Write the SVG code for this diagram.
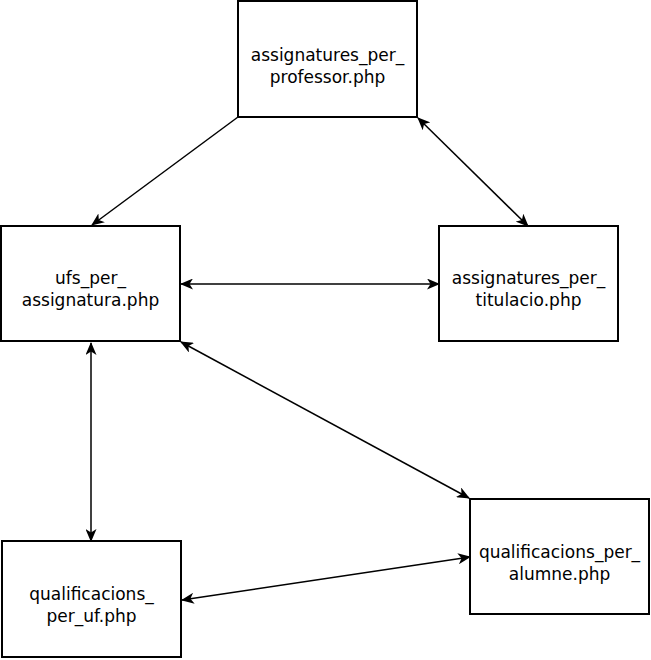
<svg xmlns="http://www.w3.org/2000/svg" width="651" height="660" viewBox="0 0 651 660">
<style>
.box{fill:#fff;stroke:#000;stroke-width:2}
.lbl{font-family:"DejaVu Sans",sans-serif;font-size:17px;fill:#000;text-anchor:middle}
.edge{fill:none;stroke:#000;stroke-width:1.5}
</style>
<defs>
<marker id="arr" viewBox="0 0 13 11" refX="12" refY="5.5" markerWidth="13" markerHeight="11" markerUnits="userSpaceOnUse" orient="auto-start-reverse">
<path d="M0,0 L13,5.5 L0,11 L3.5,5.5 Z" fill="#000"/>
</marker>
</defs>
<rect width="651" height="660" fill="#fff"/>
<g id="connectors">
<line class="edge" x1="238" y1="117" x2="92" y2="225" marker-end="url(#arr)"/>
<line class="edge" x1="418" y1="118" x2="528" y2="226" marker-start="url(#arr)" marker-end="url(#arr)"/>
<line class="edge" x1="181" y1="284" x2="439" y2="284" marker-start="url(#arr)" marker-end="url(#arr)"/>
<line class="edge" x1="91" y1="343" x2="91" y2="541" marker-start="url(#arr)" marker-end="url(#arr)"/>
<line class="edge" x1="181" y1="342" x2="469" y2="498" marker-start="url(#arr)" marker-end="url(#arr)"/>
<line class="edge" x1="182" y1="600" x2="470" y2="557" marker-start="url(#arr)" marker-end="url(#arr)"/>
</g>
<g id="node-professor">
<rect class="box" x="238" y="1" width="179" height="116"/>
<text class="lbl" x="327.5" y="61">assignatures_per_</text>
<text class="lbl" x="327.5" y="83">professor.php</text>
</g>
<g id="node-ufs">
<rect class="box" x="1" y="226" width="179" height="115"/>
<text class="lbl" x="90.5" y="284">ufs_per_</text>
<text class="lbl" x="90.5" y="306">assignatura.php</text>
</g>
<g id="node-titulacio">
<rect class="box" x="439" y="226" width="179" height="115"/>
<text class="lbl" x="528.5" y="284">assignatures_per_</text>
<text class="lbl" x="528.5" y="306">titulacio.php</text>
</g>
<g id="node-alumne">
<rect class="box" x="470" y="499" width="179" height="115"/>
<text class="lbl" x="559.5" y="558">qualificacions_per_</text>
<text class="lbl" x="559.5" y="580">alumne.php</text>
</g>
<g id="node-uf">
<rect class="box" x="2" y="541" width="179" height="116"/>
<text class="lbl" x="91.5" y="600">qualificacions_</text>
<text class="lbl" x="91.5" y="622">per_uf.php</text>
</g>
</svg>
